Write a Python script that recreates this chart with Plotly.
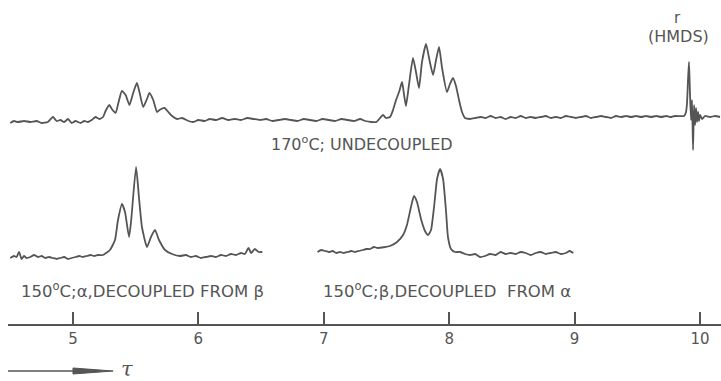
import plotly.graph_objects as go

# Chemical shift (tau) and relative intensity for each proton spectrum
upper_tau = [4.50, 4.53, 4.56, 4.61, 4.66, 4.71, 4.75, 4.80, 4.84, 4.87, 4.90, 4.93, 4.96, 4.99,
             5.02, 5.06, 5.09, 5.12, 5.15, 5.18, 5.21, 5.24, 5.26, 5.29, 5.31, 5.34, 5.36, 5.39,
             5.42, 5.45, 5.48, 5.51, 5.53, 5.56, 5.59, 5.61, 5.64, 5.67, 5.69, 5.73, 5.76, 5.79,
             5.83, 5.87, 5.92, 5.96, 6.00, 6.05, 6.09, 6.14, 6.19, 6.24, 6.29, 6.34, 6.39, 6.44,
             6.49, 6.54, 6.59, 6.64, 6.69, 6.74, 6.79, 6.84, 6.89, 6.94, 6.99, 7.04, 7.09, 7.14,
             7.19, 7.24, 7.29, 7.33, 7.38, 7.42, 7.472, 7.496, 7.528, 7.552, 7.576, 7.600, 7.624,
             7.640, 7.655, 7.679, 7.711, 7.735, 7.759, 7.783, 7.815, 7.839, 7.871, 7.895, 7.919,
             7.943, 7.982, 8.006, 8.030, 8.054, 8.078, 8.102, 8.126, 8.166, 8.21, 8.25, 8.29,
             8.33, 8.37, 8.41, 8.45, 8.49, 8.53, 8.57, 8.61, 8.65, 8.69, 8.73, 8.77, 8.81, 8.85,
             8.89, 8.93, 8.97, 9.01, 9.05, 9.09, 9.13, 9.17, 9.21, 9.25, 9.29, 9.33, 9.37, 9.41,
             9.45, 9.49, 9.53, 9.57, 9.61, 9.65, 9.69, 9.73, 9.77, 9.80, 9.873, 9.888, 9.896,
             9.904, 9.912, 9.920, 9.928, 9.936, 9.944, 9.952, 9.960, 9.968, 9.976, 9.984, 9.992,
             10.000, 10.016, 10.040, 10.080, 10.119, 10.159]
upper_int = [-1, 1, 0, 1, 0, 1, -1, 0, 5, 1, 2, 0, 3, -1,
             1, -1, 1, 0, 2, 5, 3, 5, 11, 17, 13, 9, 18, 31,
             27, 17, 29, 39, 30, 15, 23, 29, 22, 10, 12, 14, 10, 6,
             3, 4, 1, 0, 2, 1, 3, 2, 4, 2, 3, 2, 4, 3,
             2, 3, 1, 2, 3, 2, 1, 3, 2, 1, 3, 2, 1, 3,
             2, 1, 3, 1, 0, 0, 7, 4, 5, 12, 22, 30, 40,
             27, 16, 37, 64, 50, 34, 60, 78, 64, 47, 62, 75,
             54, 30, 38, 44, 36, 22, 10, 4, 3, 4, 5, 4,
             6, 4, 5, 3, 5, 4, 6, 4, 5, 4, 5, 6, 4, 5,
             4, 6, 5, 4, 5, 6, 4, 5, 6, 5, 4, 6, 5, 6,
             5, 6, 5, 6, 5, 6, 5, 6, 5, 6, 6, 10, 19,
             42, 60, 27, 2, 22, -28, 17, -3, 14, 0, 10, 1,
             7, 3, 6, 5, 6, 5]

alpha_tau = [4.50, 4.53, 4.55, 4.57, 4.59, 4.61, 4.63, 4.66, 4.69, 4.72, 4.75, 4.78, 4.81, 4.84,
             4.87, 4.90, 4.93, 4.96, 4.99, 5.02, 5.05, 5.08, 5.11, 5.14, 5.17, 5.20, 5.239, 5.295,
             5.335, 5.359, 5.391, 5.415, 5.447, 5.463, 5.503, 5.526, 5.550, 5.590, 5.622, 5.654,
             5.686, 5.734, 5.790, 5.853, 5.90, 5.94, 5.98, 6.02, 6.06, 6.10, 6.14, 6.18, 6.22,
             6.26, 6.30, 6.34, 6.37, 6.40, 6.42, 6.45, 6.48, 6.51]
alpha_int = [-1, 1, 0, 5, -2, 1, -1, 0, 2, 0, 1, -1, 0, -1,
             -2, -1, 0, -2, -1, 0, 1, 0, 1, 2, 1, 2, 2, 7,
             17, 37, 53, 45, 20, 35, 90, 60, 30, 10, 20, 27,
             17, 7, 3, 1, 2, 0, 1, -1, 0, 1, 0, 2, 1,
             3, 2, 4, 3, 9, 4, 8, 5, 5]

beta_tau = [6.95, 6.98, 7.01, 7.04, 7.07, 7.10, 7.13, 7.16, 7.19, 7.22, 7.25, 7.28, 7.31, 7.34,
            7.37, 7.40, 7.43, 7.528, 7.584, 7.632, 7.663, 7.695, 7.719, 7.743, 7.775, 7.807,
            7.831, 7.855, 7.879, 7.903, 7.927, 7.951, 7.975, 7.990, 8.014, 8.046, 8.086, 8.126,
            8.166, 8.206, 8.246, 8.286, 8.325, 8.37, 8.41, 8.45, 8.49, 8.53, 8.57, 8.61, 8.65,
            8.69, 8.73, 8.77, 8.81, 8.85, 8.89, 8.93, 8.96, 8.99]
beta_int = [5, 7, 6, 5, 6, 4, 5, 4, 5, 6, 5, 6, 7, 8,
            8, 10, 9, 11, 15, 22, 32, 50, 61, 55, 38, 26,
            22, 27, 50, 78, 88, 78, 45, 20, 8, 5, 5, 3,
            2, 3, 0, 1, 3, 2, 5, 3, 4, 3, 5, 4, 2,
            4, 5, 3, 4, 5, 3, 4, 6, 4]

tick_vals = [5, 6, 7, 8, 9, 10]

INK = "#555555"
FONT = "DejaVu Sans"
UPPER_BASE = 259   # vertical offset of the undecoupled trace
LOWER_BASE = 124   # vertical offset of the decoupled traces

fig = go.Figure()
for tau, inten, base in [(upper_tau, upper_int, UPPER_BASE),
                         (alpha_tau, alpha_int, LOWER_BASE),
                         (beta_tau, beta_int, LOWER_BASE)]:
    fig.add_trace(go.Scatter(
        x=tau, y=[base + v for v in inten], mode="lines",
        line=dict(color=INK, width=1.8, shape="spline", smoothing=0.5),
        hoverinfo="skip", showlegend=False))

txt = dict(family=FONT, size=16, color=INK)
low = dict(family=FONT, size=16.5, color=INK)
fig.add_annotation(x=7.305, y=238, text="170<sup>o</sup>C; UNDECOUPLED", showarrow=False, font=txt)
fig.add_annotation(x=5.558, y=91, text="150<sup>o</sup>C;α,DECOUPLED FROM β", showarrow=False, font=low)
fig.add_annotation(x=7.983, y=91, text="150<sup>o</sup>C;β,DECOUPLED  FROM α", showarrow=False, font=low)
fig.add_annotation(x=9.817, y=363, text="r", showarrow=False, font=dict(family=FONT, size=15, color=INK))
fig.add_annotation(x=9.825, y=345, text="(HMDS)", showarrow=False, font=txt)
fig.add_annotation(x=5.37, y=12, text="<i>τ</i>", showarrow=False, xanchor="left",
                   font=dict(family="DejaVu Serif", size=21, color=INK))

# direction arrow under the scale
fig.add_shape(type="line", x0=4.482, x1=5.0, y0=10, y1=10, line=dict(color=INK, width=1.5))
fig.add_shape(type="path", path="M 5.0 7 L 5.32 10 L 5.0 13 Z",
              fillcolor=INK, line=dict(color=INK, width=1))

fig.update_layout(
    width=721, height=381,
    margin=dict(l=0, r=0, t=0, b=0),
    paper_bgcolor="white", plot_bgcolor="white",
    xaxis=dict(domain=[8 / 721, 1], range=[4.482, 10.167], anchor="free", position=56 / 381,
               showgrid=False, zeroline=False, showline=True, linecolor=INK, linewidth=1.5,
               ticks="inside", ticklen=12, tickwidth=1.5, tickcolor=INK,
               tickvals=tick_vals, ticktext=[str(v) for v in tick_vals],
               tickfont=dict(family=FONT, size=15, color=INK)),
    yaxis=dict(range=[0, 381], visible=False, domain=[0, 1]),
)

fig.write_html("out.html")
